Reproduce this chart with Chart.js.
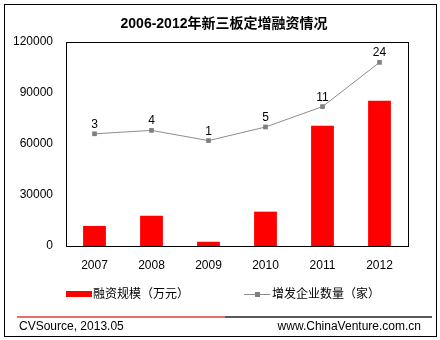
<!DOCTYPE html>
<html>
<head>
<meta charset="utf-8">
<script src="https://cdn.jsdelivr.net/npm/chart.js@4/dist/chart.umd.min.js"></script>
<style>
    html, body { margin: 0; padding: 0; background: #fff; }
    #wrap { width: 440px; height: 340px; }
</style>
</head>
<body>
<div id="wrap"><canvas id="placementChart" width="440" height="340"></canvas></div>
<script>
(function () {
    'use strict';

    var years = ['2007', '2008', '2009', '2010', '2011', '2012'];
    var amount = [11800, 17800, 2500, 20200, 70800, 85500];   // 融资规模（万元）
    var firms = [3, 4, 1, 5, 11, 24];                          // 增发企业数量（家）
    var yTicks = [0, 30000, 60000, 90000, 120000];

    var titleText = '2006-2012年新三板定增融资情况';
    var amountLabel = '融资规模（万元）';
    var firmsLabel = '增发企业数量（家）';
    var sourceText = 'CVSource, 2013.05';
    var siteText = 'www.ChinaVenture.com.cn';

    var latin = '"Liberation Sans", Arial, sans-serif';
    var cjk = '"Liberation Sans", "Noto Sans CJK SC", sans-serif';

    // frame, title, legend, footer and point labels
    var decor = {
        id: 'decor',
        afterDraw: function (chart) {
            var ctx = chart.ctx;
            var a = chart.chartArea;
            ctx.save();

            // outer frame
            ctx.strokeStyle = '#000';
            ctx.lineWidth = 1;
            ctx.strokeRect(4.5, 4.5, 432, 332);

            // plot frame
            ctx.strokeRect(Math.round(a.left) + 0.5, Math.round(a.top) + 0.5,
                Math.round(a.right - a.left), Math.round(a.bottom - a.top));

            // title
            ctx.fillStyle = '#000';
            ctx.font = 'bold 14px ' + cjk;
            ctx.textAlign = 'center';
            ctx.textBaseline = 'middle';
            ctx.fillText(titleText, 224, 24);

            // labels over the line points
            var meta = chart.getDatasetMeta(1);
            ctx.font = '12px ' + latin;
            ctx.textBaseline = 'alphabetic';
            meta.data.forEach(function (pt, i) {
                ctx.fillText(String(firms[i]), pt.x, pt.y - 6);
            });

            // legend
            ctx.fillStyle = '#ff0000';
            ctx.fillRect(66, 291, 26, 6);
            ctx.strokeStyle = '#8c8c8c';
            ctx.beginPath();
            ctx.moveTo(244, 294.5);
            ctx.lineTo(270, 294.5);
            ctx.stroke();
            ctx.fillStyle = '#7f7f7f';
            ctx.fillRect(255, 292, 5, 5);
            ctx.fillStyle = '#000';
            ctx.font = '12px ' + cjk;
            ctx.textAlign = 'left';
            ctx.textBaseline = 'middle';
            ctx.fillText(amountLabel, 93, 295);
            ctx.fillText(firmsLabel, 272, 295);

            // footer rule
            ctx.lineWidth = 1.5;
            ctx.strokeStyle = '#e03c3c';
            ctx.beginPath();
            ctx.moveTo(17, 317);
            ctx.lineTo(225, 317);
            ctx.stroke();
            ctx.strokeStyle = '#222';
            ctx.beginPath();
            ctx.moveTo(225, 317);
            ctx.lineTo(432, 317);
            ctx.stroke();

            ctx.font = '12px ' + latin;
            ctx.fillText(sourceText, 19, 327);
            ctx.textAlign = 'right';
            ctx.fillText(siteText, 421, 327);

            ctx.restore();
        }
    };

    new Chart(document.getElementById('placementChart').getContext('2d'), {
        data: {
            labels: years,
            datasets: [
                {
                    type: 'bar',
                    label: amountLabel,
                    data: amount,
                    backgroundColor: '#ff0000',
                    borderWidth: 0,
                    categoryPercentage: 1,
                    barPercentage: 0.4,
                    yAxisID: 'y',
                    order: 2
                },
                {
                    type: 'line',
                    label: firmsLabel,
                    data: firms,
                    borderColor: '#8c8c8c',
                    borderWidth: 1,
                    pointStyle: 'rect',
                    pointRadius: 3.3,
                    pointBackgroundColor: '#7f7f7f',
                    pointBorderColor: '#7f7f7f',
                    pointBorderWidth: 0,
                    tension: 0,
                    yAxisID: 'y2',
                    order: 1
                }
            ]
        },
        options: {
            responsive: false,
            animation: false,
            layout: { padding: { left: 0, top: 42, right: 32, bottom: 0 } },
            plugins: {
                legend: { display: false },
                title: { display: false },
                tooltip: { enabled: false }
            },
            scales: {
                x: {
                    grid: { display: false, drawTicks: false },
                    border: { display: false },
                    ticks: {
                        color: '#000',
                        font: { family: latin, size: 12 },
                        padding: 12,
                        maxRotation: 0
                    },
                    afterFit: function (s) { s.height = 94; }
                },
                y: {
                    position: 'left',
                    min: 0,
                    max: 120000,
                    grid: { display: false, drawTicks: false },
                    border: { display: false },
                    afterBuildTicks: function (s) {
                        s.ticks = yTicks.map(function (v) { return { value: v }; });
                    },
                    ticks: {
                        color: '#000',
                        font: { family: latin, size: 12 },
                        padding: 13,
                        callback: function (v) { return String(v); }
                    },
                    afterFit: function (s) { s.width = 66; }
                },
                y2: {
                    display: false,
                    min: -30,
                    max: 30
                }
            }
        },
        plugins: [decor]
    });
})();
</script>
</body>
</html>
